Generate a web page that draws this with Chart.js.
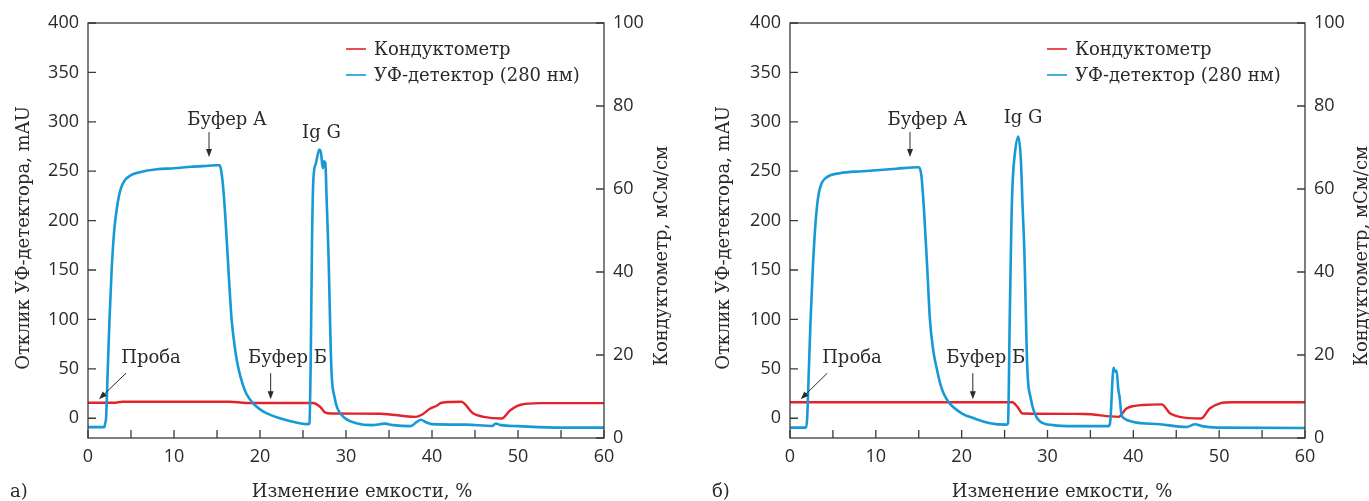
<!DOCTYPE html>
<html><head><meta charset="utf-8">
<script src="https://cdn.jsdelivr.net/npm/chart.js@4.4.1/dist/chart.umd.min.js"></script>
<style>
html,body{margin:0;padding:0;background:#fff;width:1369px;height:501px;overflow:hidden}
#ca{position:absolute;left:0;top:0}
#cb{position:absolute;left:690px;top:0}
</style></head><body>
<canvas id="ca" width="690" height="501"></canvas>
<canvas id="cb" width="679" height="501"></canvas>
<script>
// ---------- tick labels ----------
const xTicks = [0, 10, 20, 30, 40, 50, 60];
const xMinorTicks = [5, 15, 25, 35, 45, 55];
const uvTicks = [0, 50, 100, 150, 200, 250, 300, 350, 400];
const condTicks = [0, 20, 40, 60, 80, 100];

// ---------- series names ----------
const seriesNames = ['Кондуктометр', 'УФ-детектор (280 нм)'];

// ---------- panel а): UV detector (mAU) ----------
const uvA_x = [0, 1.9, 2.0, 2.1, 2.3, 2.5, 2.75, 3.05, 3.4, 3.8, 4.3, 5, 6, 8, 10, 12, 14, 15.0, 15.3, 15.5, 15.8, 16.1, 16.4, 16.7, 17.1, 17.5, 18.0, 18.4, 19.2, 20.0, 20.8, 22.3, 24.6, 25.6, 25.75, 25.9, 26.05, 26.2, 26.5, 26.9, 27.1, 27.3, 27.45, 27.6, 27.75, 27.95, 28.3, 28.7, 29.0, 29.9, 31.2, 33, 34.5, 35.5, 37.5, 38.2, 38.7, 39.3, 40, 44, 47, 47.4, 48, 50, 55, 60];
const uvA_y = [-9, -9, -5, 0, 50, 100, 150, 190, 215, 232, 241, 246, 249, 252, 253, 254.5, 255.5, 256, 256, 250, 225, 185, 140, 100, 70, 50, 34, 25, 15, 9, 5, 0, -5, -6, -5, 60, 180, 241, 258, 272, 268, 253, 260, 258, 221, 170, 50, 20, 10, 0, -5, -7, -5.5, -7, -8, -4, -1.5, -4, -6, -6.5, -7.8, -5.4, -7, -8, -9.5, -9.5];

// ---------- panel а): conductivity (мСм/см) ----------
const condA_x = [0, 3, 4, 16.5, 18.4, 26.2, 27.0, 27.6, 28.3, 34, 38.1, 38.8, 39.8, 40.5, 41.1, 43.4, 44.8, 46.0, 48.1, 49.1, 50.2, 52.6, 60];
const condA_y = [8.5, 8.5, 8.75, 8.75, 8.45, 8.45, 7.5, 6.1, 5.9, 5.85, 5.1, 5.6, 7.1, 7.7, 8.5, 8.75, 5.9, 5.1, 4.7, 6.7, 7.95, 8.4, 8.4];

// ---------- panel б): UV detector (mAU) ----------
const uvB_x = [0, 1.87, 2.0, 2.2, 2.4, 2.65, 2.95, 3.3, 3.7, 4.3, 5.8, 8.5, 12.4, 14.95, 15.3, 15.65, 16.0, 16.3, 16.7, 17.1, 17.5, 17.9, 18.6, 20.0, 21.4, 23.3, 25.2, 25.4, 25.6, 25.8, 25.95, 26.2, 26.6, 26.9, 27.1, 27.3, 27.65, 28.05, 28.5, 29.1, 30.7, 33, 37.1, 37.3, 37.7, 37.9, 38.05, 38.25, 38.4, 38.6, 38.95, 40.0, 43.1, 46.2, 47.2, 48, 49.7, 60];
const uvB_y = [-9.5, -9.5, 0, 50, 100, 150, 195, 225, 238, 244, 248, 250, 252.5, 254, 246, 205, 150, 100, 68, 50, 35, 25, 15, 5, 0, -5, -6.5, -5, 100, 200, 241, 268, 285, 261, 214, 170, 50, 20, 5, -3, -7, -8, -8, -4, 51, 47, 48, 29, 21.6, 4.7, -0.3, -3.7, -6.1, -8.8, -6.1, -8, -9.5, -9.9];

// ---------- panel б): conductivity (мСм/см) ----------
const condB_x = [0, 25.9, 26.5, 27.1, 34.2, 38.25, 39.2, 40.0, 41.1, 43.3, 44.3, 45.4, 47.9, 48.9, 50.1, 51.5, 60];
const condB_y = [8.6, 8.6, 7.5, 5.9, 5.8, 5.1, 7.1, 7.7, 7.95, 8.1, 5.9, 5.1, 4.7, 7.1, 8.35, 8.6, 8.6];

// ---------- annotation texts ----------
const notesA = [
  {text: 'Буфер А', x: 16.16, y: 296.7, arrow: [14.07, 289.6, 14.07, 264.3]},
  {text: 'Ig G', x: 27.15, y: 283.2},
  {text: 'Проба', x: 7.33, y: 55.4, arrow: [4.42, 45.6, 1.28, 19.2]},
  {text: 'Буфер Б', x: 23.2, y: 55.4, arrow: [21.24, 45.6, 21.24, 19.2]}
];
const notesB = [
  {text: 'Буфер А', x: 15.99, y: 296.7, arrow: [13.98, 289.6, 13.98, 264.3]},
  {text: 'Ig G', x: 27.15, y: 298.4},
  {text: 'Проба', x: 7.22, y: 55.4, arrow: [4.34, 45.6, 1.25, 19.2]},
  {text: 'Буфер Б', x: 22.81, y: 55.4, arrow: [21.3, 45.6, 21.3, 19.2]}
];

const RED = '#e3232b', BLUE = '#1799d6', INK = '#2a2a2a';
const SERIF = '18px "DejaVu Serif"';
const SANS = '"Open Sans"';

function pts(xs, ys) { return xs.map((x, i) => ({x: x, y: ys[i]})); }

function makeChart(id, cfg) {
  const decor = {
    id: 'decor',
    afterDatasetsDraw(chart) {
      const ctx = chart.ctx, a = chart.chartArea;
      const sx = chart.scales.x, sy = chart.scales.y, sy2 = chart.scales.y2;
      ctx.save();
      ctx.strokeStyle = '#3a3a3a';
      ctx.lineWidth = 1.3;
      ctx.strokeRect(a.left, a.top, a.right - a.left, a.bottom - a.top);
      ctx.beginPath();
      xTicks.concat(xMinorTicks).forEach(v => {
        const p = sx.getPixelForValue(v);
        ctx.moveTo(p, a.bottom); ctx.lineTo(p, a.bottom - 8);
      });
      uvTicks.forEach(v => {
        const p = sy.getPixelForValue(v);
        ctx.moveTo(a.left, p); ctx.lineTo(a.left + 8, p);
      });
      condTicks.forEach(v => {
        const p = sy2.getPixelForValue(v);
        ctx.moveTo(a.right, p); ctx.lineTo(a.right - 8, p);
      });
      ctx.stroke();

      // annotations
      ctx.fillStyle = INK;
      ctx.font = SERIF;
      ctx.textAlign = 'center';
      ctx.textBaseline = 'alphabetic';
      cfg.notes.forEach(n => {
        ctx.fillText(n.text, sx.getPixelForValue(n.x), sy.getPixelForValue(n.y));
        if (n.arrow) {
          const x1 = sx.getPixelForValue(n.arrow[0]), y1 = sy.getPixelForValue(n.arrow[1]);
          const x2 = sx.getPixelForValue(n.arrow[2]), y2 = sy.getPixelForValue(n.arrow[3]);
          const ang = Math.atan2(y2 - y1, x2 - x1);
          ctx.strokeStyle = INK; ctx.lineWidth = 1;
          ctx.beginPath(); ctx.moveTo(x1, y1); ctx.lineTo(x2 - 5 * Math.cos(ang), y2 - 5 * Math.sin(ang)); ctx.stroke();
          ctx.beginPath();
          ctx.moveTo(x2, y2);
          ctx.lineTo(x2 - 8 * Math.cos(ang) + 3 * Math.sin(ang), y2 - 8 * Math.sin(ang) - 3 * Math.cos(ang));
          ctx.lineTo(x2 - 8 * Math.cos(ang) - 3 * Math.sin(ang), y2 - 8 * Math.sin(ang) + 3 * Math.cos(ang));
          ctx.closePath(); ctx.fill();
        }
      });

      // legend
      const lx = a.left + cfg.legendOffset;
      [[RED, seriesNames[0], 49], [BLUE, seriesNames[1], 75]].forEach(([c, t, y]) => {
        ctx.strokeStyle = c; ctx.lineWidth = 1.6;
        ctx.beginPath(); ctx.moveTo(lx, y); ctx.lineTo(lx + 20, y); ctx.stroke();
        ctx.fillStyle = INK; ctx.textAlign = 'left'; ctx.textBaseline = 'middle';
        ctx.fillText(t, lx + 28, y + 1);
      });

      // axis titles
      ctx.fillStyle = INK; ctx.textAlign = 'center'; ctx.textBaseline = 'alphabetic';
      ctx.save(); ctx.translate(cfg.leftTitleX, 238); ctx.rotate(-Math.PI / 2);
      ctx.fillText('Отклик УФ-детектора, mAU', 0, 0); ctx.restore();
      ctx.save(); ctx.translate(cfg.rightTitleX, 256); ctx.rotate(-Math.PI / 2);
      ctx.fillText('Кондуктометр, мСм/см', 0, 0); ctx.restore();
      ctx.fillText('Изменение емкости, %', cfg.bottomTitleX, 497);
      ctx.textAlign = 'left';
      ctx.fillText(cfg.panel, cfg.panelX, 497);
      ctx.restore();
    }
  };

  return new Chart(document.getElementById(id), {
    type: 'line',
    data: {
      datasets: [
        {label: seriesNames[1], data: pts(cfg.uvx, cfg.uvy), yAxisID: 'y', borderColor: BLUE, borderWidth: 2.6, pointRadius: 0, cubicInterpolationMode: 'monotone', order: 0},
        {label: seriesNames[0], data: pts(cfg.cx, cfg.cy), yAxisID: 'y2', borderColor: RED, borderWidth: 2.4, pointRadius: 0, cubicInterpolationMode: 'monotone', order: 1}
      ]
    },
    options: {
      responsive: false, animation: false, devicePixelRatio: 1,
      layout: {padding: {top: 23, left: 0, right: 0, bottom: 0}},
      plugins: {legend: {display: false}, tooltip: {enabled: false}},
      scales: {
        x: {
          type: 'linear', min: 0, max: 60,
          afterBuildTicks: s => { s.ticks = xTicks.map(v => ({value: v})); },
          afterFit: s => { s.height = 63; },
          grid: {display: false, drawTicks: false}, border: {display: false},
          ticks: {padding: 8, color: INK, font: {family: SANS, size: 18}, maxRotation: 0}
        },
        y: {
          type: 'linear', position: 'left', min: -20, max: 400,
          afterBuildTicks: s => { s.ticks = uvTicks.map(v => ({value: v})); },
          afterFit: s => { s.width = cfg.leftW; },
          grid: {display: false, drawTicks: false}, border: {display: false},
          ticks: {padding: 9, color: INK, font: {family: SANS, size: 18}}
        },
        y2: {
          type: 'linear', position: 'right', min: 0, max: 100,
          afterBuildTicks: s => { s.ticks = condTicks.map(v => ({value: v})); },
          afterFit: s => { s.width = cfg.rightW; },
          grid: {display: false, drawTicks: false}, border: {display: false},
          ticks: {padding: 9, color: INK, font: {family: SANS, size: 18}}
        }
      }
    },
    plugins: [decor]
  });
}

makeChart('ca', {uvx: uvA_x, uvy: uvA_y, cx: condA_x, cy: condA_y, notes: notesA,
  leftW: 88, rightW: 86, legendOffset: 258, leftTitleX: 29, rightTitleX: 667, bottomTitleX: 362, panel: 'а)', panelX: 10});
makeChart('cb', {uvx: uvB_x, uvy: uvB_y, cx: condB_x, cy: condB_y, notes: notesB,
  leftW: 100, rightW: 64, legendOffset: 257, leftTitleX: 39, rightTitleX: 677, bottomTitleX: 372, panel: 'б)', panelX: 22});
</script>
</body></html>
